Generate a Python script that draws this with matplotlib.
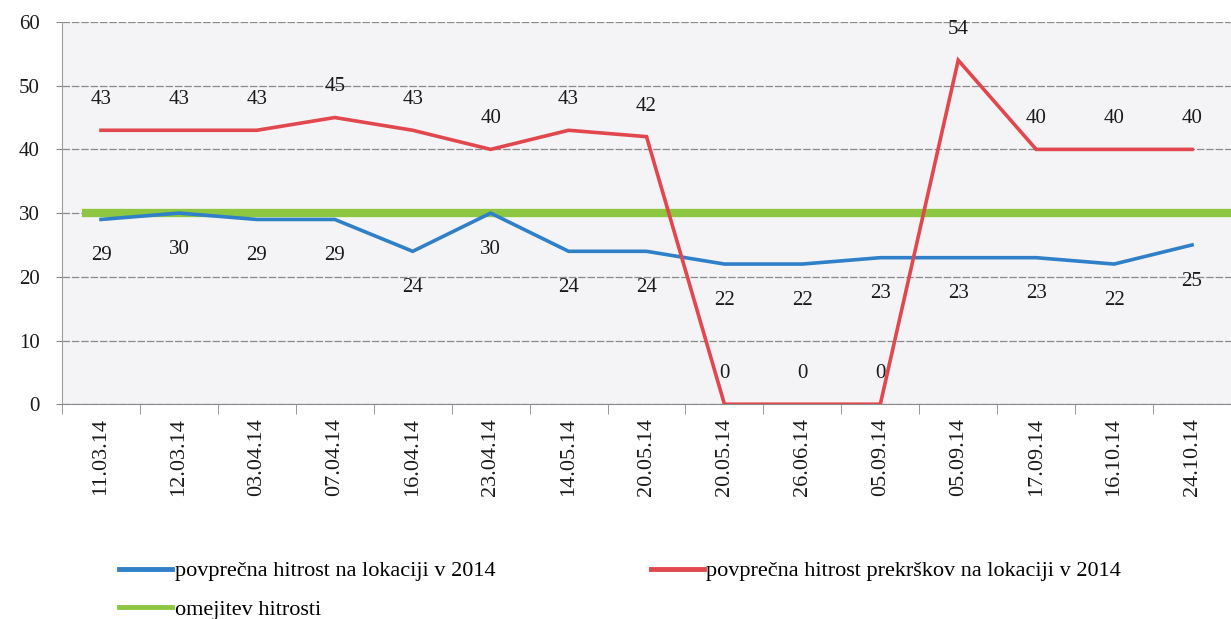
import matplotlib
matplotlib.use("Agg")
import matplotlib.pyplot as plt
from matplotlib.lines import Line2D
import numpy as np

dates = ["11.03.14", "12.03.14", "03.04.14", "07.04.14", "16.04.14", "23.04.14",
         "14.05.14", "20.05.14", "20.05.14", "26.06.14", "05.09.14", "05.09.14",
         "17.09.14", "16.10.14", "24.10.14"]
avg_speed = [29, 30, 29, 29, 24, 30, 24, 24, 22, 22, 23, 23, 23, 22, 25]
offender_speed = [43, 43, 43, 45, 43, 40, 43, 42, 0, 0, 0, 54, 40, 40, 40]
speed_limit = 30
y_ticks = [0, 10, 20, 30, 40, 50, 60]

label_avg = "povprečna hitrost na lokaciji v 2014"
label_off = "povprečna hitrost prekrškov na lokaciji v 2014"
label_lim = "omejitev hitrosti"

BLUE = "#2f80c8"
RED = "#e2474d"
GREEN = "#8dc641"
SERIF = "Liberation Serif"

fig = plt.figure(figsize=(12.31, 6.19), dpi=100)
fig.patch.set_facecolor("white")
ax = fig.add_axes([0.0504, 0.347, 0.9496, 0.6175])
ax.set_facecolor("#f4f4f6")

x = np.arange(len(dates))

ax.hlines(speed_limit, -0.25, len(dates) - 0.5, color=GREEN, lw=6, zorder=3,
          capstyle="butt")
ax.plot(x, avg_speed, color=BLUE, lw=2.6, zorder=4, solid_joinstyle="miter")
ax.plot(x, offender_speed, color=RED, lw=2.6, zorder=5, solid_joinstyle="miter")

for xi, v in zip(x, offender_speed):
    ax.annotate(str(v), (xi, v), xytext=(0, 22), textcoords="offset points",
                ha="center", va="center", fontsize=15, family=SERIF, color="#1a1a1a")
for xi, v in zip(x, avg_speed):
    ax.annotate(str(v), (xi, v), xytext=(0, -26), textcoords="offset points",
                ha="center", va="center", fontsize=15, family=SERIF, color="#1a1a1a")

ax.set_xlim(-0.5, 14.37)
ax.set_ylim(0, 60)
ax.set_yticks(y_ticks)
ax.set_yticklabels([str(t) for t in y_ticks], family=SERIF, fontsize=15, color="#1a1a1a")
ax.yaxis.grid(True, color="#8a8a8a", lw=0.9, ls=(0, (6, 1.5)))
ax.set_axisbelow(True)

ax.set_xticks(x)
ax.set_xticklabels(dates, rotation=90, family=SERIF, fontsize=16, color="#1a1a1a")
ax.set_xticks(np.arange(-0.5, len(dates), 1.0), minor=True)
ax.tick_params(axis="x", which="major", length=0, pad=10)
ax.tick_params(axis="x", which="minor", length=7, color="#888888", direction="out")
ax.tick_params(axis="y", length=4, color="#888888", pad=12)

for s in ["top", "right"]:
    ax.spines[s].set_visible(False)
ax.spines["left"].set_color("#a0a0a0")
ax.spines["bottom"].set_color("#8a8a8a")

h1 = [Line2D([], [], color=BLUE, lw=3.5), Line2D([], [], color=GREEN, lw=3.5)]
leg1 = fig.legend(h1, [label_avg, label_lim], loc="upper left",
                  bbox_to_anchor=(0.0877, 0.112), frameon=False, borderpad=0,
                  handlelength=2.4, handletextpad=0.1, labelspacing=0.8,
                  prop={"family": SERIF, "size": 16})
h2 = [Line2D([], [], color=RED, lw=3.5)]
leg2 = fig.legend(h2, [label_off], loc="upper left",
                  bbox_to_anchor=(0.5197, 0.112), frameon=False, borderpad=0,
                  handlelength=2.4, handletextpad=0.1,
                  prop={"family": SERIF, "size": 16})

fig.savefig("out.png", dpi=100, facecolor="white")
